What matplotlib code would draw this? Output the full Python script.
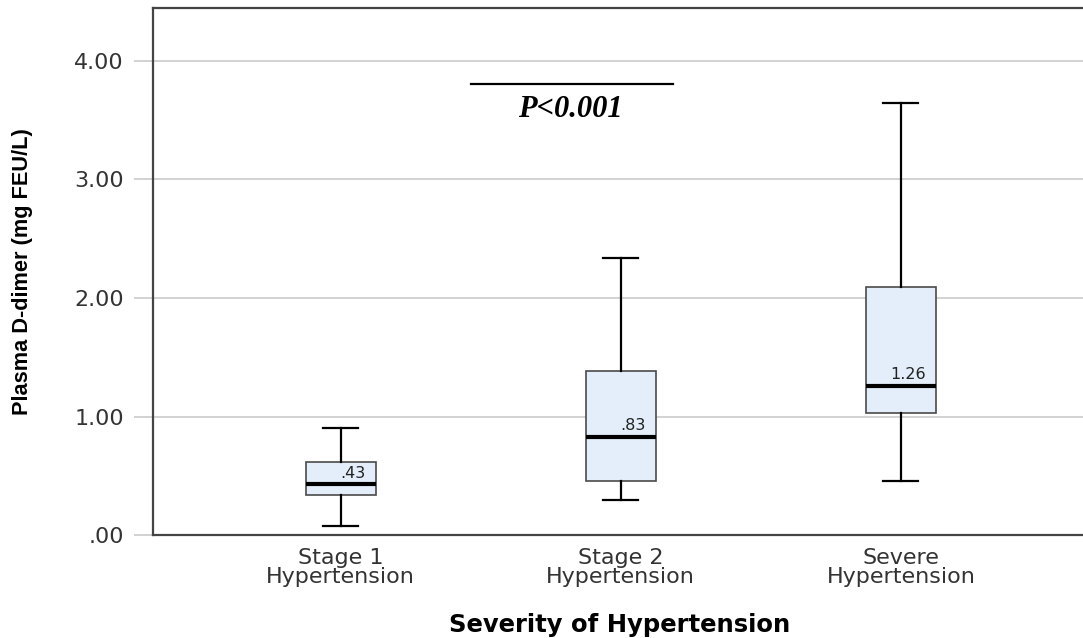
import matplotlib
matplotlib.use("Agg")
import matplotlib.pyplot as plt

# box summary values (mg FEU/L)
groups = ["Stage 1\nHypertension", "Stage 2\nHypertension", "Severe\nHypertension"]
whislo = [0.08, 0.30, 0.46]
q1 = [0.34, 0.46, 1.03]
med = [0.43, 0.83, 1.26]
q3 = [0.62, 1.38, 2.09]
whishi = [0.90, 2.34, 3.64]
yticks = [0, 1, 2, 3, 4]
ytick_labels = [".00", "1.00", "2.00", "3.00", "4.00"]
p_text = "P<0.001"

def fmt(v):
    s = "%.2f" % v
    return s[1:] if s.startswith("0") else s

fig = plt.figure(figsize=(10.83, 6.38), dpi=100)
ax = fig.add_axes([153/1083, 0.161, 1 - 153/1083, 0.826])

stats = []
for i in range(len(groups)):
    stats.append({"whislo": whislo[i], "q1": q1[i], "med": med[i],
                  "q3": q3[i], "whishi": whishi[i], "fliers": []})
pos = list(range(1, len(groups) + 1))
ax.bxp(stats, positions=pos, widths=0.25, patch_artist=True, showfliers=False,
       boxprops=dict(facecolor="#e3eefa", edgecolor="#4a4a4a", linewidth=1.2),
       medianprops=dict(color="black", linewidth=3),
       whiskerprops=dict(color="black", linewidth=1.6),
       capprops=dict(color="black", linewidth=1.6),
       capwidths=0.125, zorder=3)

for i in range(len(groups)):
    ax.text(pos[i] + 0.09, med[i] + 0.03, fmt(med[i]), ha="right", va="bottom",
            fontsize=11.5, color="#222222", zorder=4)

ax.set_xlim(0.33, 3.65)
ax.set_ylim(0, 4.44)
ax.set_yticks(yticks)
ax.set_yticklabels(ytick_labels)
ax.set_xticks(pos)
ax.set_xticklabels(groups, linespacing=0.95)
ax.yaxis.grid(True, color="#cfcfcf", linewidth=1.3, zorder=0)
ax.set_axisbelow(True)
ax.tick_params(axis="y", length=14, width=1.3, color="#cfcfcf", pad=7,
               labelsize=16, labelcolor="#333333")
ax.tick_params(axis="x", length=0, pad=9, labelsize=16, labelcolor="#333333")

for s in ["left", "top", "bottom"]:
    ax.spines[s].set_color("#444444")
    ax.spines[s].set_linewidth(1.6)
ax.spines["right"].set_visible(False)

# significance bar
ax.plot([1.464, 2.186], [3.80, 3.80], color="black", linewidth=1.6, clip_on=False)
ax.text(1.82, 3.52, p_text, ha="center", va="baseline", fontsize=22,
        family="Liberation Serif", fontweight="bold", fontstyle="italic")

fig.text(23/1083, 0.574, "Plasma D-dimer (mg FEU/L)", rotation=90, ha="center",
         va="center", fontsize=15.7, family="Liberation Sans", fontweight="bold")
fig.text(620/1083, (638 - 632)/638, "Severity of Hypertension", ha="center",
         va="baseline", fontsize=17.5, fontweight="bold")

fig.savefig("out.png", dpi=100)
